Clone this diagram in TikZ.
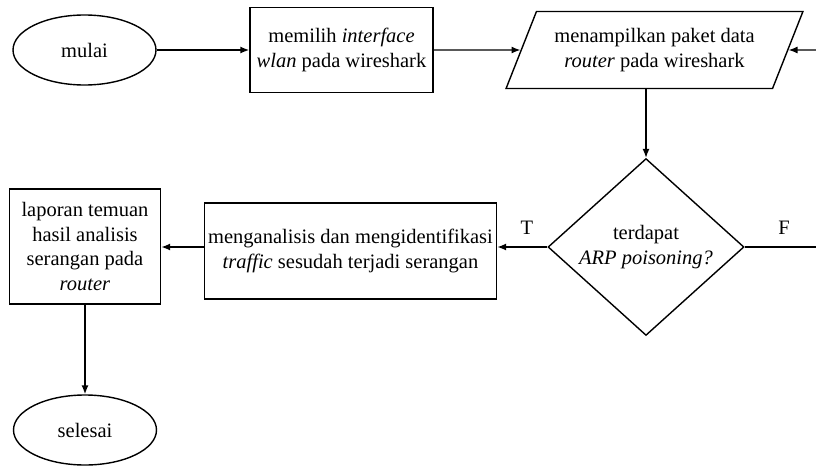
\documentclass[tikz,border=0pt]{standalone}
\usepackage{fontspec}
\setmainfont{Liberation Serif}
\usetikzlibrary{shapes.geometric,arrows.meta}
\begin{document}
\begin{tikzpicture}[x=1pt,y=-1pt,
  every node/.style={font=\fontsize{20.5}{24.5}\selectfont, align=center, inner sep=0pt},
  term/.style={draw, ellipse, minimum width=143pt, minimum height=70pt},
  proc/.style={draw, rectangle},
  io/.style={draw, trapezium, trapezium left angle=59.1, trapezium right angle=120.9, trapezium stretches=true, minimum width=297pt, minimum height=77pt},
  decide/.style={draw, diamond, minimum width=196pt, minimum height=156pt},
  flow/.style={-{Latex[length=9pt,width=7pt]}},
  lbl/.style={font=\fontsize{20.5}{24.5}\selectfont},
  line width=1.4pt]
\useasboundingbox (0,0) rectangle (816,466);
\node[term] (mulai) at (84.5,50) {mulai};
\node[proc, minimum width=183pt, minimum height=85pt] (pilih) at (341.5,50) {memilih \textit{interface}\\\textit{wlan} pada wireshark};
\node[io] (tampil) at (654.5,50) {menampilkan paket data\\\textit{router} pada wireshark};
\node[decide] (cek) at (646,247) {terdapat\\\textit{ARP poisoning?}};
\node[proc, minimum width=292pt, minimum height=96pt] (analisis) at (350.5,251) {menganalisis dan mengidentifikasi\\\textit{traffic} sesudah terjadi serangan};
\node[proc, minimum width=151pt, minimum height=115pt] (lapor) at (85,246.5) {laporan temuan\\hasil analisis\\serangan pada\\\textit{router}};
\node[term] (selesai) at (85,430) {selesai};
\coordinate (fout) at (816,247);
\coordinate (fin) at (816,50);
\node[lbl] (tl) at (527,228) {T};
\node[lbl] (fl) at (784,228) {F};
\draw[flow] (mulai) -- (pilih);
\draw[flow] (pilih) -- (tampil);
\draw[flow] (cek.north |- tampil.south) -- (cek.north);
\draw[flow] (cek.west) -- (cek.west -| analisis.east);
\draw[flow] (cek.west -| analisis.west) -- (cek.west -| lapor.east);
\draw[flow] (lapor) -- (selesai);
\draw (cek.east) -- (fout);
\draw[flow] (fin) -- (tampil);
\end{tikzpicture}
\end{document}
